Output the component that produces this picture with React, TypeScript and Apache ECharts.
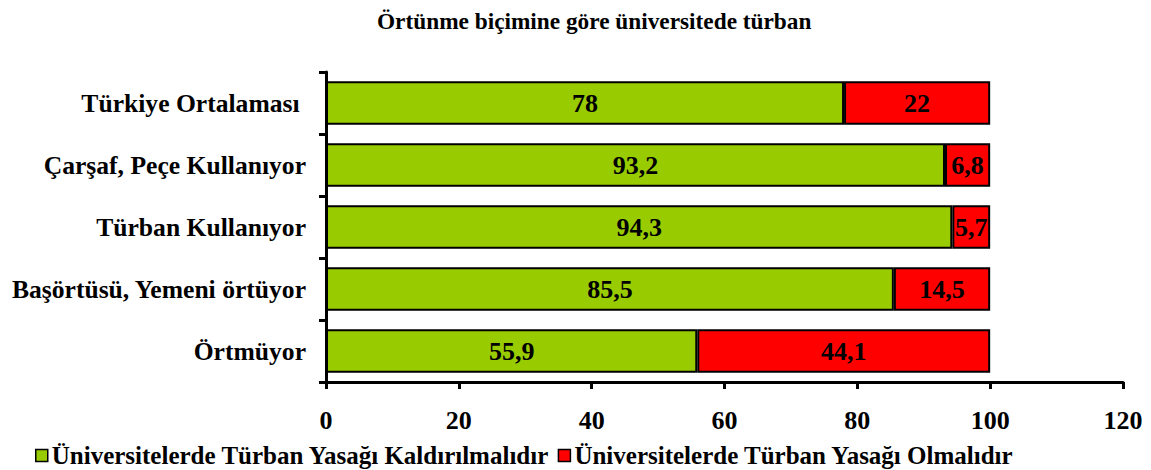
import React, { useEffect, useRef } from "react";
import * as echarts from "echarts";

const categories = [
  "Türkiye Ortalaması ",
  "Çarşaf, Peçe Kullanıyor",
  "Türban Kullanıyor",
  "Başörtüsü, Yemeni örtüyor",
  "Örtmüyor",
];
const kaldirilmali = [78, 93.2, 94.3, 85.5, 55.9];
const olmali = [22, 6.8, 5.7, 14.5, 44.1];
const seriesNames = [
  "Üniversitelerde Türban Yasağı Kaldırılmalıdır",
  "Üniversitelerde Türban Yasağı Olmalıdır",
];
const titleText = "Örtünme biçimine göre üniversitede türban";

const FONT = "'Liberation Serif', 'Times New Roman', serif";

export default function App() {
  const ref = useRef<HTMLDivElement>(null);
  useEffect(() => {
    if (!ref.current) return;
    const chart = echarts.init(ref.current, null, { renderer: "svg" });
    const fmt = (p: any) => String(p.value).replace(".", ",");
    chart.setOption({
      animation: false,
      backgroundColor: "#ffffff",
      title: {
        text: titleText,
        left: 372,
        top: 4,
        textStyle: { fontFamily: FONT, fontWeight: "bold", fontSize: 23.3, color: "#000" },
      },
      legend: {
        left: 30,
        top: 438,
        itemWidth: 12,
        itemHeight: 12,
        itemGap: 8,
        icon: "rect",
        textStyle: { fontFamily: FONT, fontWeight: "bold", fontSize: 25, color: "#000", padding: [0, 0, 0, -1] },
        data: seriesNames.map((n) => ({ name: n, itemStyle: { borderColor: "#000", borderWidth: 1.5 } })),
      },
      grid: { left: 326, right: 28, top: 72, bottom: 88, containLabel: false },
      xAxis: {
        type: "value",
        min: 0,
        max: 120,
        interval: 20,
        splitLine: { show: false },
        axisLine: { show: true, lineStyle: { color: "#000", width: 3 } },
        axisTick: { show: true, length: 7, lineStyle: { color: "#000", width: 3 } },
        axisLabel: { margin: 25, fontFamily: FONT, fontWeight: "bold", fontSize: 26, color: "#000" },
      },
      yAxis: {
        type: "category",
        inverse: true,
        data: categories,
        axisLine: { show: true, lineStyle: { color: "#000", width: 3 } },
        axisTick: { show: true, length: 7, lineStyle: { color: "#000", width: 3 } },
        axisLabel: { margin: 20, fontFamily: FONT, fontWeight: "bold", fontSize: 25.6, color: "#000" },
      },
      series: [
        {
          name: seriesNames[0],
          type: "bar",
          stack: "a",
          data: kaldirilmali,
          barWidth: "70%",
          itemStyle: { color: "#99CC00", borderColor: "#000", borderWidth: 2 },
          label: { show: true, position: "inside", formatter: fmt, fontFamily: FONT, fontWeight: "bold", fontSize: 26, color: "#000" },
        },
        {
          name: seriesNames[1],
          type: "bar",
          stack: "a",
          data: olmali,
          barWidth: "70%",
          itemStyle: { color: "#FF0000", borderColor: "#000", borderWidth: 2 },
          label: { show: true, position: "inside", formatter: fmt, fontFamily: FONT, fontWeight: "bold", fontSize: 26, color: "#000" },
        },
      ],
    });
    return () => chart.dispose();
  }, []);
  return <div ref={ref} style={{ width: 1151, height: 470, position: "absolute", left: 0, top: 0 }} />;
}
